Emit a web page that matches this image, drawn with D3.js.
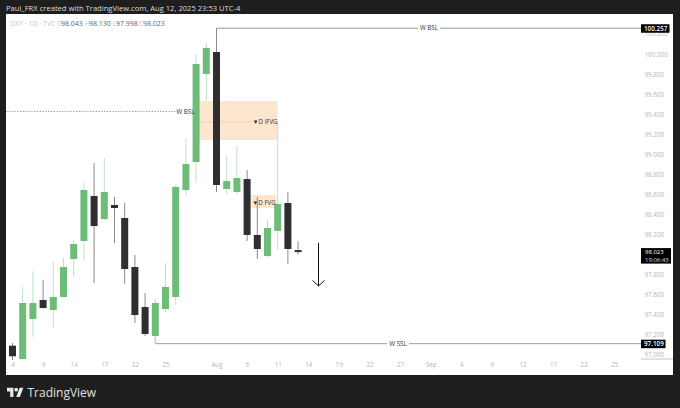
<!DOCTYPE html>
<html><head><meta charset="utf-8">
<script src="https://cdnjs.cloudflare.com/ajax/libs/d3/7.8.5/d3.min.js"></script>
<style>html,body{margin:0;padding:0;background:#1e1e1e;overflow:hidden}svg{display:block}text{font-family:"Open Sans",sans-serif}</style>
</head><body><svg id="c" width="680" height="408"></svg>
<script>
const opens =[97.089,96.956,97.355,97.545,97.445,97.575,97.954,98.134,98.583,98.353,98.493,98.363,97.874,97.475,97.186,97.455,97.575,98.643,98.922,99.800,100.020,98.653,98.623,98.752,98.194,97.984,98.234,98.513,98.043];
const highs =[97.116,97.675,97.834,97.745,97.924,97.964,98.144,98.713,98.912,98.962,98.573,98.513,97.994,97.615,97.555,97.914,98.693,99.162,99.990,100.110,100.257,98.982,99.082,98.842,98.573,98.353,99.321,98.623,98.130];
const lows  =[96.946,96.950,97.176,97.460,97.275,97.565,97.774,97.934,97.715,98.343,98.114,97.705,97.315,97.186,97.109,97.425,97.495,98.593,98.713,99.531,98.623,98.603,98.603,98.134,97.954,97.964,98.044,97.904,97.998];
const closes=[96.983,97.515,97.515,97.465,97.575,97.874,98.104,98.643,98.283,98.623,98.463,97.854,97.395,97.206,97.515,97.675,98.673,98.902,99.900,100.060,98.693,98.733,98.762,98.194,98.054,98.264,98.503,98.054,98.023];
const priceTicks=[97,97.2,97.4,97.6,97.8,98.2,98.4,98.6,98.8,99,99.2,99.4,99.6,99.8,100,100.2];
const timeTickIdx=[0,3,6,9,12,15,20,23,26,29,32,35,38,41,44,47,50,53,56,59];
const timeTickLabels=["4","9","14","17","22","25","Aug","6","11","14","19","22","27","Sep","4","9","12","17","22","25"];
const wBSLprice=100.257, wSSLprice=97.109, lastPrice=98.023, prevWBSL=99.426, ifvgMid=99.321;
const ifvgBox=[99.531,99.141], fvgBox=[98.573,98.463];

const svg=d3.select("#c");
const x=d3.scaleLinear().domain([0,59]).range([12.5,614.3]);
const y=d3.scaleLinear().domain([97,100]).range([354.6,54]);
const bw=7;
const green="#6dbd78", greenWick="#bfe2c4", black="#2f2f2f", wick="#8a8a8a", label="#b4b6bc", line="#9a9a9a";

svg.append("rect").attr("width",680).attr("height",408).attr("fill","#1e1e1e");
svg.append("rect").attr("x",6).attr("y",14).attr("width",667).attr("height",361).attr("fill","#fff");
svg.append("text").attr("x",6).attr("y",11).attr("fill","#dcdcdc").attr("font-size",7.6)
  .text("Paul_FRX created with TradingView.com, Aug 12, 2025 23:53 UTC-4");

const hdr=svg.append("text").attr("x",10).attr("y",26).attr("font-size",7);
hdr.append("tspan").attr("fill","#c4c6cc").text("DXY · 1D · TVC");
[["O","98.043",57],["H","98.130",85],["L","97.998",113],["C","98.023",139]].forEach(d=>{
  svg.append("text").attr("x",d[2]).attr("y",26).attr("font-size",7).attr("fill","#c4c6cc").text(d[0]);
  svg.append("text").attr("x",d[2]+(d[0]=="L"?3:4)).attr("y",26).attr("font-size",7).attr("fill","#666").text(d[1]);
});

// zones
svg.append("rect").attr("x",x(18)).attr("width",x(26)-x(18)).attr("y",y(ifvgBox[0])).attr("height",y(ifvgBox[1])-y(ifvgBox[0])).attr("fill","#fde6cf");
svg.append("rect").attr("x",x(24)-6).attr("width",25).attr("y",y(fvgBox[0])-2).attr("height",y(fvgBox[1])-y(fvgBox[0])+2).attr("fill","#fde6cf");

// dotted levels
svg.append("line").attr("x1",6).attr("x2",178).attr("y1",y(prevWBSL)).attr("y2",y(prevWBSL)).attr("stroke","#777").attr("stroke-width",.7).attr("stroke-dasharray","1.4 1.4");
svg.append("line").attr("x1",200).attr("x2",252).attr("y1",y(ifvgMid)).attr("y2",y(ifvgMid)).attr("stroke","#d8b48c").attr("stroke-width",.7).attr("stroke-dasharray","1.4 1.4");

// long lines
svg.append("path").attr("fill","none").attr("stroke",line).attr("stroke-width",1)
  .attr("d",d3.line()([[x(20),y(100.02)],[x(20),y(wBSLprice)],[641,y(wBSLprice)]]));
svg.append("path").attr("fill","none").attr("stroke",line).attr("stroke-width",1)
  .attr("d",d3.line()([[x(14),y(97.2)],[x(14),y(wSSLprice)],[641,y(wSSLprice)]]));

// candles
const idx=d3.range(opens.length);
const g=svg.append("g").selectAll("g").data(idx).join("g");
g.append("line").attr("x1",i=>x(i)).attr("x2",i=>x(i)).attr("y1",i=>y(highs[i])).attr("y2",i=>y(lows[i]))
  .attr("stroke",i=>closes[i]>=opens[i]?greenWick:wick).attr("stroke-width",1);
g.append("rect").attr("x",i=>x(i)-bw/2).attr("width",bw)
  .attr("y",i=>y(Math.max(opens[i],closes[i])))
  .attr("height",i=>Math.max(1.5,Math.abs(y(opens[i])-y(closes[i]))))
  .attr("fill",i=>closes[i]>=opens[i]?green:black);

// labels
function lbl(t,cx,price,bg,w){
  if(bg) svg.append("rect").attr("x",cx-w/2).attr("y",y(price)-4).attr("width",w).attr("height",8).attr("fill",bg);
  svg.append("text").attr("x",cx).attr("y",y(price)+2.2).attr("text-anchor","middle").attr("font-size",6.2).attr("fill","#333").text(t);
}
lbl("W BSL",429,wBSLprice,"#fff",22);
lbl("W SSL",398,wSSLprice,"#fff",22);
lbl("W BSL",185.5,prevWBSL,null,0);
lbl("▼D iFVG",265,ifvgMid,null,0);
lbl("▼D FVG",264,98.518,null,0);

// arrow
svg.append("path").attr("fill","none").attr("stroke","#111").attr("stroke-width",1)
  .attr("d",d3.line()([[x(30),y(98.114)],[x(30),y(97.685)]]));
svg.append("path").attr("fill","none").attr("stroke","#111").attr("stroke-width",1)
  .attr("d",d3.line()([[x(30)-6,y(97.74)],[x(30),y(97.685)],[x(30)+6,y(97.74)]]));

// axes
const ay=svg.append("g").attr("transform","translate(644.5,0)")
  .call(d3.axisRight(y).tickValues(priceTicks).tickSize(0).tickPadding(0).tickFormat(d3.format(".3f")));
ay.select(".domain").remove();
ay.selectAll("text").attr("font-size",6.3).attr("font-family",'"Open Sans",sans-serif').attr("fill",label);
const ax=svg.append("g").attr("transform","translate(0,363)")
  .call(d3.axisBottom(x).tickValues(timeTickIdx).tickSize(0).tickPadding(0).tickFormat((d,i)=>timeTickLabels[i]));
ax.select(".domain").remove();
ax.selectAll("text").attr("font-size",6.3).attr("font-family",'"Open Sans",sans-serif').attr("fill",label);
svg.append("line").attr("x1",641).attr("x2",673).attr("y1",359).attr("y2",359).attr("stroke","#aaa").attr("stroke-width",.7);

// price tags
function tag(t,price,w){
  svg.append("rect").attr("x",641).attr("y",y(price)-4).attr("width",w).attr("height",8.5).attr("fill","#000");
  svg.append("text").attr("x",644).attr("y",y(price)+2.4).attr("font-size",6.3).attr("font-weight",600).attr("fill","#fff").text(t);
}
tag(wBSLprice.toFixed(3),wBSLprice,28.5);
tag(wSSLprice.toFixed(3),wSSLprice,24.5);
svg.append("rect").attr("x",641).attr("y",y(lastPrice)-4).attr("width",30).attr("height",15.5).attr("fill","#000");
svg.append("text").attr("x",645).attr("y",y(lastPrice)+2).attr("font-size",6).attr("fill","#fff").text(lastPrice.toFixed(3));
svg.append("text").attr("x",645).attr("y",y(lastPrice)+9.6).attr("font-size",6).attr("fill","#ddd").text("19:06:43");

// logo
const lg=svg.append("g").attr("transform","translate(7,386) scale(0.46)").attr("fill","#e8e8e8");
lg.append("path").attr("d","M14 24H7V12H0V4h14v20zM28 24h-8l7.5-20h8L28 24z");
lg.append("circle").attr("cx",20).attr("cy",8).attr("r",4);
svg.append("text").attr("x",27.5).attr("y",397).attr("font-size",12).attr("font-weight",500).attr("fill","#e0e0e0").text("TradingView");
</script></body></html>
